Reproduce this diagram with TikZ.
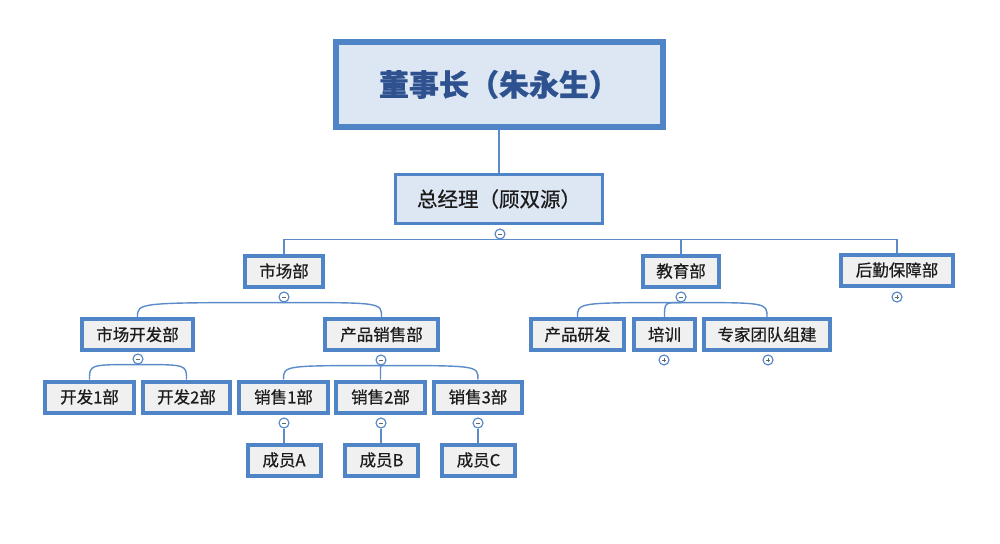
\documentclass[tikz,border=0pt]{standalone}
\usepackage{fontspec}
\usepackage{xcolor}
\usepackage{tikz}
\usetikzlibrary{positioning, calc}
\newfontfamily\cjk{Noto Sans CJK SC}[BoldFeatures={FakeBold=0.8}]
\newfontfamily\cjkmid{Noto Sans CJK SC}[FakeBold=0.6]
\definecolor{edgeblue}{HTML}{4F84C6}
\definecolor{linkblue}{HTML}{5B8BC8}
\definecolor{paleblue}{HTML}{DDE7F4}
\definecolor{palegray}{HTML}{F0F0F0}
\definecolor{chairtext}{HTML}{2E5290}
\definecolor{darktext}{HTML}{1C1C1C}

\begin{document}
\begin{tikzpicture}[
    x=1pt, y=-1pt,
    chairbox/.style={rectangle, draw=edgeblue, line width=6pt, fill=paleblue,
                     minimum width=327pt, minimum height=85pt, text=chairtext,
                     font=\cjk\bfseries\fontsize{30}{34}\selectfont},
    gmbox/.style={rectangle, draw=edgeblue, line width=3pt, fill=paleblue,
                  minimum width=207pt, minimum height=49pt, text=darktext,
                  font=\cjkmid\fontsize{20.5}{24}\selectfont},
    dept/.style={rectangle, draw=edgeblue, line width=4pt, fill=palegray,
                 minimum height=31pt, inner xsep=4pt, text=darktext,
                 font=\cjkmid\fontsize{16.5}{20}\selectfont},
    knob/.style={circle, draw=edgeblue, line width=1.1pt, fill=white,
                 minimum size=10pt, inner sep=0pt},
    collapse/.style={knob, path picture={
        \draw[line width=1pt, gray!80!black]
            ([xshift=-2.3pt]path picture bounding box.center) --
            ([xshift=2.3pt]path picture bounding box.center);}},
    expand/.style={knob, path picture={
        \draw[line width=1pt, gray!80!black]
            ([xshift=-2.3pt]path picture bounding box.center) --
            ([xshift=2.3pt]path picture bounding box.center)
            ([yshift=-2.3pt]path picture bounding box.center) --
            ([yshift=2.3pt]path picture bounding box.center);}},
    link/.style={linkblue, line width=1.4pt},
]
\useasboundingbox (0,0) rectangle (1000,543);

% Top level
\node[chairbox] (chair) at (499,84.5) {董事长（朱永生）};
\node[gmbox] (gm) at (499,199) {总经理（顾双源）};
\node[collapse] (gmk) at (500,234) {};

% Departments
\node[dept, minimum width=78pt] (market) at (284,271) {市场部};
\node[dept, minimum width=76pt] (edu) at (681,271) {教育部};
\node[dept, minimum width=112pt] (logi) at (897,270) {后勤保障部};
\node[collapse] (marketk) at (284,297) {};
\node[collapse] (eduk) at (681,297) {};
\node[expand] (logik) at (897,297) {};

% Second level
\node[dept, minimum width=111pt] (dev) at (137.5,334.5) {市场开发部};
\node[dept, minimum width=113pt] (sales) at (381.5,334.5) {产品销售部};
\node[dept, minimum width=93pt] (rnd) at (577.5,334.5) {产品研发};
\node[dept, minimum width=61pt] (train) at (664.5,334.5) {培训};
\node[dept, minimum width=126pt] (expert) at (767,334.5) {专家团队组建};
\node[collapse] (devk) at (138,359) {};
\node[collapse] (salesk) at (381,360) {};
\node[expand] (traink) at (664,360) {};
\node[expand] (expertk) at (768,360) {};

% Third level
\node[dept, minimum width=89pt] (dev1) at (89.5,397) {开发1部};
\node[dept, minimum width=87pt] (dev2) at (186.5,397) {开发2部};
\node[dept, minimum width=89pt] (sale1) at (283.5,397) {销售1部};
\node[dept, minimum width=89pt] (sale2) at (380.5,397) {销售2部};
\node[dept, minimum width=88pt] (sale3) at (478,397) {销售3部};
\node[collapse] (sale1k) at (284,423) {};
\node[collapse] (sale2k) at (381,423) {};
\node[collapse] (sale3k) at (478,423) {};

% Members
\node[dept, minimum width=73pt] (memA) at (284,460) {成员A};
\node[dept, minimum width=73pt] (memB) at (381.5,460) {成员B};
\node[dept, minimum width=73pt] (memC) at (478.5,460) {成员C};

% Connectors
\draw[link] (chair.south) -- (chair.south |- gm.north);
\foreach \d in {market,edu,logi} {
    \draw[link] (gmk.south) -| (\d.north);
}
\foreach \p/\c in {marketk/dev, marketk/sales, eduk/rnd, eduk/train, eduk/expert,
                   devk/dev1, devk/dev2, salesk/sale1, salesk/sale2, salesk/sale3} {
    \draw[link] (\p.south) .. controls (\c.north |- \p.south) .. (\c.north);
}
\foreach \p/\c in {sale1k/memA, sale2k/memB, sale3k/memC} {
    \draw[link] (\p.south) -- (\p.south |- \c.north);
}

\end{tikzpicture}
\end{document}
